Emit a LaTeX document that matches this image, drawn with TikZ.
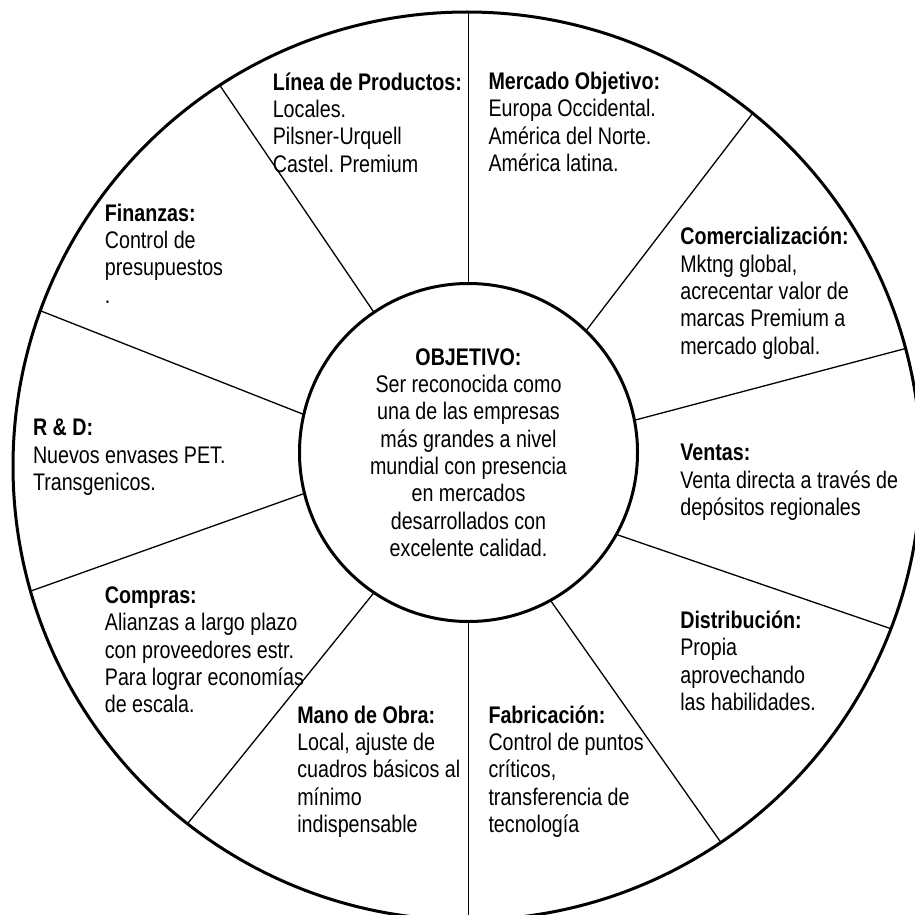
\documentclass[tikz,border=0pt]{standalone}
\usepackage{fontspec}
\setmainfont{Liberation Sans}[FakeStretch=0.82]
\newcommand{\wheelfont}{\fontsize{24}{27.3}\selectfont}
\frenchspacing

\begin{document}
\begin{tikzpicture}[x=1pt,y=-1pt,line join=round]
	\tikzstyle{every node}=[inner sep=0pt,outer sep=0pt,font=\wheelfont]
	\tikzstyle{ring}=[circle,draw,line width=3pt]
	\tikzstyle{sector}=[anchor=base west,align=left]
	\tikzstyle{spoke}=[line width=1.3pt]
	\useasboundingbox (0,0) rectangle (914,915);

	\node[ring,minimum size=908pt] (W) at (467,466) {};
	\node[ring,minimum size=338pt,align=center] (Obj) at (468.5,452.5)
		{\textbf{OBJETIVO:}\\Ser reconocida como\\una de las empresas\\más grandes a nivel\\mundial con presencia\\en mercados\\desarrollados con\\excelente calidad.};

	% sector texts, placed at the baseline of their last line
	\node[sector] (Lin) at (272.8,172) {\textbf{Línea de Productos:}\\Locales.\\Pilsner-Urquell\\Castel. Premium};
	\node[sector] (Mer) at (488.5,171.5) {\textbf{Mercado Objetivo:}\\Europa Occidental.\\América del Norte.\\América latina.};
	\node[sector] (Com) at (680.3,354) {\textbf{Comercialización:}\\Mktng global,\\acrecentar valor de\\marcas Premium a\\mercado global.};
	\node[sector] (Ven) at (680.3,515.5) {\textbf{Ventas:}\\Venta directa a través de\\depósitos regionales};
	\node[sector] (Dis) at (680.3,710.3) {\textbf{Distribución:}\\Propia\\aprovechando\\las habilidades.};
	\node[sector] (Fab) at (488.5,832.5) {\textbf{Fabricación:}\\Control de puntos\\críticos,\\transferencia de\\tecnología};
	\node[sector] (Man) at (297.3,832.5) {\textbf{Mano de Obra:}\\Local, ajuste de\\cuadros básicos al\\mínimo\\indispensable};
	\node[sector] (Cpr) at (104.9,712.8) {\textbf{Compras:}\\Alianzas a largo plazo\\con proveedores estr.\\Para lograr economías\\de escala.};
	\node[sector] (RD)  at (33,490.5) {\textbf{R \& D:}\\Nuevos envases PET.\\Transgenicos.};
	\node[sector] (Fin) at (104.9,303.2) {\textbf{Finanzas:}\\Control de\\presupuestos\\.};

	% spokes between the two rings
	\path (Obj.90)   edge[spoke] (Obj.90 |- W.north);
	\path (Obj.46)   edge[spoke] (W.51.9);
	\path (Obj.11.9) edge[spoke] (W.15.5);
	\path (Obj.-29.5) edge[spoke] (W.-21.8);
	\path (Obj.-61.1) edge[spoke] (W.-56.1);
	\path (Obj.-90)  edge[spoke] (Obj.-90 |- W.south);
	\path (Obj.236.2) edge[spoke] (W.232.7);
	\path (Obj.194.7) edge[spoke] (W.196.8);
	\path (Obj.167.9) edge[spoke] (W.160.2);
	\path (Obj.124.9) edge[spoke] (W.123.4);
\end{tikzpicture}
\end{document}
